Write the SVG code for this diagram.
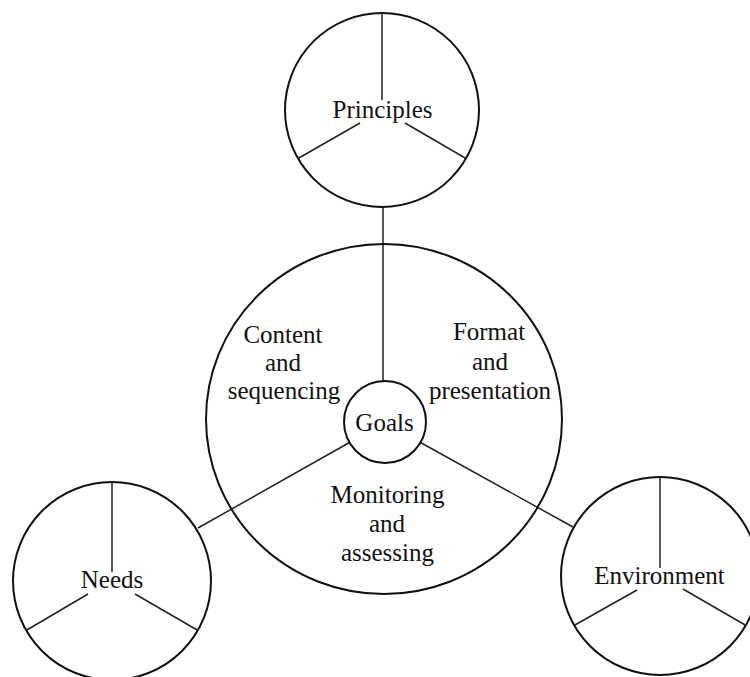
<svg xmlns="http://www.w3.org/2000/svg" width="750" height="677" viewBox="0 0 750 677">
<style>
.c{fill:none;stroke:#111;stroke-width:2}
.s{fill:none;stroke:#222;stroke-width:1.5}
.l{fill:none;stroke:#222;stroke-width:1.5}
text{font-family:"Liberation Serif","DejaVu Serif",serif;font-size:25px;fill:#111;text-anchor:middle}
</style>
<rect width="750" height="677" fill="#fff"/>
<g id="connectors">
<line class="l" x1="383" y1="207" x2="383" y2="381"/>
<line class="l" x1="349.5" y1="442.5" x2="198" y2="528"/>
<line class="l" x1="420.5" y1="442.5" x2="573" y2="527"/>
</g>
<g id="principles">
<circle class="c" cx="382" cy="110" r="97"/>
<line class="s" x1="382" y1="13" x2="382" y2="100"/>
<line class="s" x1="298" y1="158.5" x2="360" y2="123"/>
<line class="s" x1="466" y1="158.5" x2="405" y2="123"/>
<text x="382.5" y="118">Principles</text>
</g>
<g id="main">
<ellipse class="c" cx="384" cy="419" rx="178" ry="175"/>
<text x="283" y="343">Content</text>
<text x="283" y="371">and</text>
<text x="284" y="399">sequencing</text>
<text x="489" y="340">Format</text>
<text x="490" y="370">and</text>
<text x="490" y="399">presentation</text>
<text x="387.5" y="503">Monitoring</text>
<text x="387" y="532">and</text>
<text x="387.5" y="561">assessing</text>
</g>
<g id="goals">
<circle class="c" cx="385" cy="422" r="41"/>
<text x="384.5" y="431">Goals</text>
</g>
<g id="needs">
<circle class="c" cx="112" cy="581" r="99"/>
<line class="s" x1="112" y1="482" x2="112" y2="572"/>
<line class="s" x1="26" y1="630.5" x2="88" y2="594"/>
<line class="s" x1="198" y1="630.5" x2="135" y2="594"/>
<text x="112" y="588">Needs</text>
</g>
<g id="environment">
<circle class="c" cx="660" cy="576" r="99"/>
<line class="s" x1="660" y1="477" x2="660" y2="568"/>
<line class="s" x1="574" y1="625.5" x2="637" y2="590"/>
<line class="s" x1="746" y1="625.5" x2="683" y2="589"/>
<text x="659.5" y="584">Environment</text>
</g>
</svg>
